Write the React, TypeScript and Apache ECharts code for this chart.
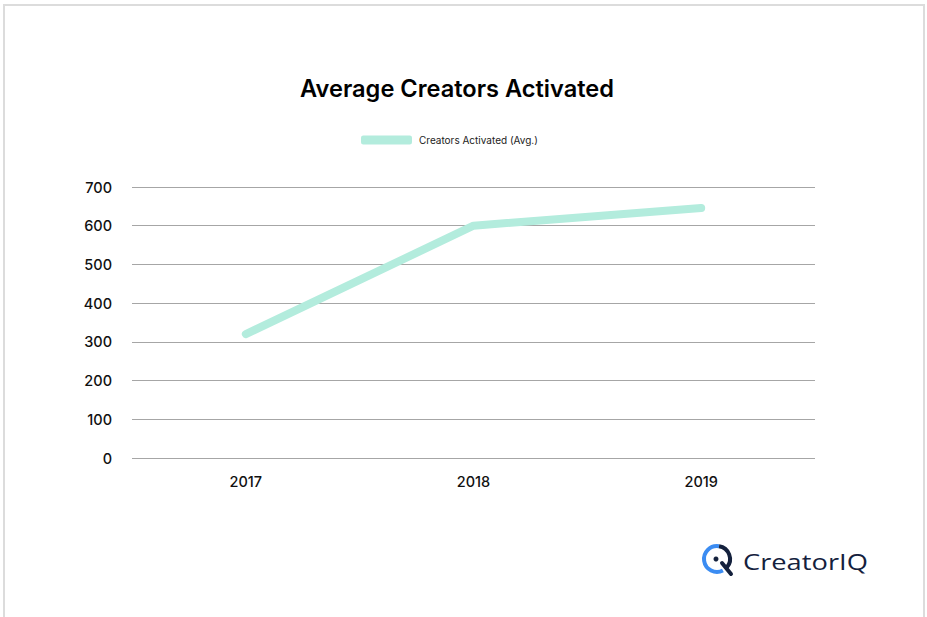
import React, { useEffect, useRef } from "react";
import * as echarts from "echarts";

const titleText = "Average Creators Activated";
const seriesName = "Creators Activated (Avg.)";
const categories = ["2017", "2018", "2019"];
const values = [320, 600, 646];
const yMax = 700;
const yInterval = 100;

export default function App() {
  const ref = useRef<HTMLDivElement>(null);
  useEffect(() => {
    document.body.style.margin = "0";
    const chart = echarts.init(ref.current!, null, { renderer: "svg" });
    const font = "Inter, 'Noto Sans', sans-serif";
    chart.setOption({
      animation: false,
      backgroundColor: "#ffffff",
      title: {
        text: titleText,
        left: 295,
        top: 71,
        textStyle: { fontFamily: font, fontSize: 23.6, fontWeight: 600, color: "#000000" },
      },
      legend: {
        top: 130,
        left: 356,
        icon: "roundRect",
        itemWidth: 51,
        itemHeight: 9,
        itemGap: 10,
        textStyle: { fontFamily: font, fontSize: 10, color: "#222222", padding: [0, 0, 0, 2] },
        data: [seriesName],
      },
      grid: { left: 132, right: 112, top: 187, bottom: 159, containLabel: false },
      xAxis: {
        type: "category",
        data: categories,
        boundaryGap: true,
        axisLine: { show: false },
        axisTick: { show: false },
        axisLabel: { fontFamily: font, fontSize: 14.5, fontWeight: 500, color: "#111111", margin: 16 },
      },
      yAxis: {
        type: "value",
        min: 0,
        max: yMax,
        interval: yInterval,
        axisLine: { show: false },
        axisTick: { show: false },
        axisLabel: { fontFamily: font, fontSize: 14.5, fontWeight: 500, color: "#111111", margin: 20 },
        splitLine: { lineStyle: { color: "#a6a6a6", width: 1 } },
      },
      series: [
        {
          name: seriesName,
          type: "line",
          data: values,
          symbol: "none",
          lineStyle: { color: "#b3ecdd", width: 8, cap: "round", join: "round" },
          itemStyle: { color: "#b3ecdd" },
        },
      ],
      graphic: [
        {
          type: "rect",
          shape: { x: 4, y: 5, width: 920, height: 640 },
          style: { fill: "none", stroke: "#dcdcdc", lineWidth: 2 },
          silent: true,
        },
        {
          type: "arc",
          shape: { cx: 717, cy: 559, r: 13, startAngle: Math.PI * 0.35, endAngle: Math.PI * 1.55 },
          style: { stroke: "#3b8cf2", lineWidth: 4, fill: "none" },
        },
        {
          type: "arc",
          shape: { cx: 717, cy: 559, r: 13, startAngle: -Math.PI * 0.45, endAngle: Math.PI * 0.22 },
          style: { stroke: "#14213d", lineWidth: 4, fill: "none" },
        },
        {
          type: "line",
          shape: { x1: 722, y1: 563, x2: 731, y2: 574 },
          style: { stroke: "#14213d", lineWidth: 4, lineCap: "round" },
        },
        {
          type: "circle",
          shape: { cx: 716, cy: 559, r: 2.5 },
          style: { fill: "#14213d" },
        },
        {
          type: "text",
          x: 743,
          y: 562,
          scaleX: 1.24,
          style: {
            text: "CreatorIQ",
            fontFamily: "'Open Sans', Lato, sans-serif",
            fontSize: 22,
            fill: "#14213d",
            verticalAlign: "middle",
          },
        },
      ],
    });
    return () => chart.dispose();
  }, []);
  return <div ref={ref} style={{ width: 927, height: 617 }} />;
}
